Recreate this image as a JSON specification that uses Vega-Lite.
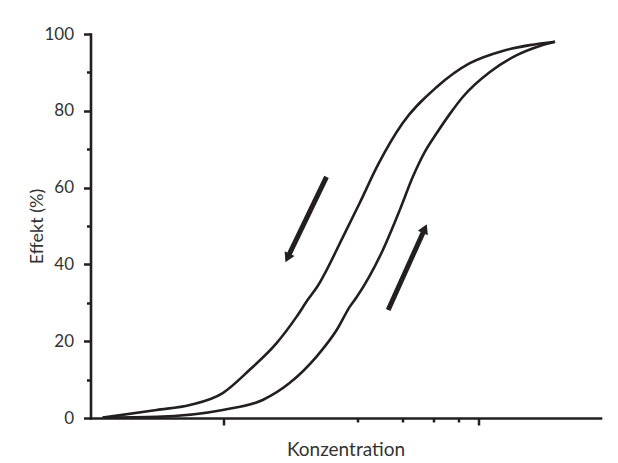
{
  "$schema": "https://vega.github.io/schema/vega-lite/v6.json",
  "width": 510,
  "height": 384,
  "autosize": {"type": "none"},
  "padding": {"left": 90.5, "top": 34, "right": 17.5, "bottom": 45},
  "background": "white",
  "config": {
    "view": {"stroke": null},
    "font": "Lato",
    "axis": {
      "grid": false,
      "domainColor": "#231f20",
      "tickColor": "#231f20",
      "labelColor": "#333333",
      "titleColor": "#333333",
      "labelFont": "Lato",
      "titleFont": "Lato",
      "titleFontWeight": "normal",
      "domainCap": "square"
    }
  },
  "datasets": {
    "curves": [
      {"branch": "down", "c": 0.335, "effect": 0.1},
      {"branch": "down", "c": 0.545, "effect": 2.1},
      {"branch": "down", "c": 0.736, "effect": 3.4},
      {"branch": "down", "c": 0.99, "effect": 6.5},
      {"branch": "down", "c": 1.26, "effect": 12.5},
      {"branch": "down", "c": 1.61, "effect": 19.5},
      {"branch": "down", "c": 1.93, "effect": 26.4},
      {"branch": "down", "c": 2.13, "effect": 30.7},
      {"branch": "down", "c": 2.32, "effect": 34.1},
      {"branch": "down", "c": 2.93, "effect": 47.1},
      {"branch": "down", "c": 3.41, "effect": 56.0},
      {"branch": "down", "c": 4.02, "effect": 65.9},
      {"branch": "down", "c": 5.03, "effect": 76.8},
      {"branch": "down", "c": 6.84, "effect": 86.2},
      {"branch": "down", "c": 9.22, "effect": 92.4},
      {"branch": "down", "c": 12.4, "effect": 95.6},
      {"branch": "down", "c": 15.85, "effect": 97.1},
      {"branch": "down", "c": 19.9, "effect": 98.0},
      {"branch": "up", "c": 0.335, "effect": 0.1},
      {"branch": "up", "c": 0.545, "effect": 0.3},
      {"branch": "up", "c": 0.99, "effect": 2.1},
      {"branch": "up", "c": 1.42, "effect": 4.7},
      {"branch": "up", "c": 1.81, "effect": 9.1},
      {"branch": "up", "c": 2.31, "effect": 16.0},
      {"branch": "up", "c": 2.77, "effect": 22.9},
      {"branch": "up", "c": 3.12, "effect": 29.0},
      {"branch": "up", "c": 3.32, "effect": 31.5},
      {"branch": "up", "c": 4.2, "effect": 43.7},
      {"branch": "up", "c": 4.9, "effect": 54.2},
      {"branch": "up", "c": 5.51, "effect": 62.8},
      {"branch": "up", "c": 6.14, "effect": 69.3},
      {"branch": "up", "c": 6.84, "effect": 74.2},
      {"branch": "up", "c": 7.7, "effect": 79.2},
      {"branch": "up", "c": 8.65, "effect": 83.6},
      {"branch": "up", "c": 11.05, "effect": 90.1},
      {"branch": "up", "c": 14.09, "effect": 94.5},
      {"branch": "up", "c": 17.34, "effect": 96.9},
      {"branch": "up", "c": 19.9, "effect": 98.0}
    ],
    "arrows": [
      {"dir": "down", "c": 2.527, "effect": 62.8, "c2": 1.777, "effect2": 41.7},
      {"dir": "up", "c": 4.41, "effect": 28.1, "c2": 6.14, "effect2": 49.3}
    ]
  },
  "layer": [
    {
      "data": {"name": "curves"},
      "mark": {"type": "line", "interpolate": "monotone", "strokeWidth": 2.6, "color": "#231f20"},
      "encoding": {
        "x": {
          "field": "c", "type": "quantitative",
          "scale": {"type": "log", "domain": [0.3, 30]},
          "axis": {"orient": "bottom", "values": [1, 10], "labels": false, "tickSize": 7, "tickWidth": 2.5, "domainWidth": 2.6, "title": "Konzentration", "titleFontSize": 19, "titlePadding": 14}
        },
        "y": {
          "field": "effect", "type": "quantitative",
          "scale": {"domain": [0, 100]},
          "axis": {"orient": "left", "values": [0, 20, 40, 60, 80, 100], "tickSize": 7, "tickWidth": 2.5, "domainWidth": 2.6, "labelFontSize": 17, "labelPadding": 10, "title": "Effekt (%)", "titleFontSize": 18, "titlePadding": -3}
        },
        "detail": {"field": "branch", "type": "nominal"}
      }
    },
    {
      "data": {"name": "arrows"},
      "mark": {"type": "rule", "strokeWidth": 5, "color": "#231f20"},
      "encoding": {
        "x": {
          "field": "c", "type": "quantitative",
          "scale": {"type": "log", "domain": [0.3, 30]},
          "axis": {"orient": "bottom", "values": [3.333, 5, 6.667, 8.333], "labels": false, "domain": false, "tickSize": 4, "tickWidth": 2.5, "title": null}
        },
        "y": {
          "field": "effect", "type": "quantitative",
          "scale": {"domain": [0, 100]},
          "axis": {"orient": "left", "values": [10, 30, 50, 70, 90], "labels": false, "domain": false, "tickSize": 4, "tickWidth": 2.5, "title": null}
        },
        "x2": {"field": "c2"},
        "y2": {"field": "effect2"}
      }
    },
    {
      "data": {"name": "arrows"},
      "transform": [{"filter": "datum.dir == 'down'"}],
      "mark": {"type": "point", "shape": "triangle-up", "filled": true, "size": 120, "angle": 205.6, "color": "#231f20", "opacity": 1},
      "encoding": {
        "x": {"field": "c2", "type": "quantitative", "scale": {"type": "log", "domain": [0.3, 30]}, "axis": null},
        "y": {"field": "effect2", "type": "quantitative", "scale": {"domain": [0, 100]}, "axis": null}
      }
    },
    {
      "data": {"name": "arrows"},
      "transform": [{"filter": "datum.dir == 'up'"}],
      "mark": {"type": "point", "shape": "triangle-up", "filled": true, "size": 120, "angle": 24.3, "color": "#231f20", "opacity": 1},
      "encoding": {
        "x": {"field": "c2", "type": "quantitative", "scale": {"type": "log", "domain": [0.3, 30]}, "axis": null},
        "y": {"field": "effect2", "type": "quantitative", "scale": {"domain": [0, 100]}, "axis": null}
      }
    }
  ],
  "resolve": {"axis": {"x": "independent", "y": "independent"}}
}
